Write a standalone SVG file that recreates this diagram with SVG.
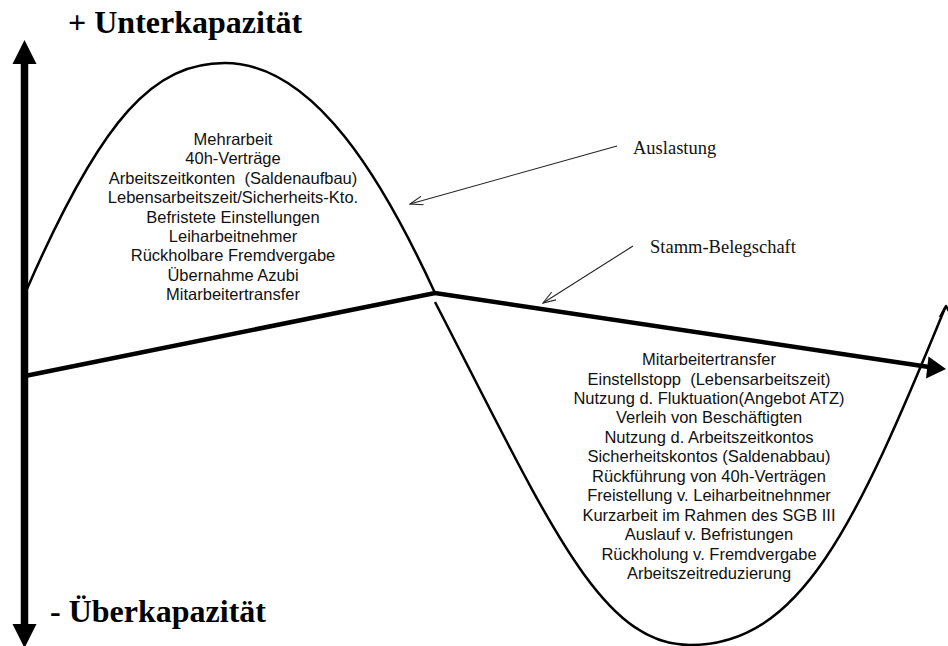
<svg xmlns="http://www.w3.org/2000/svg" width="948" height="646" viewBox="0 0 948 646">
  <style>
    .title { font-family: "Liberation Serif", "Times New Roman", serif; font-weight: bold; font-size: 32px; fill: #000; }
    .label { font-family: "Liberation Serif", "Times New Roman", serif; font-size: 18.5px; fill: #111; }
    .item { font-family: "Liberation Sans", Arial, sans-serif; font-size: 16.5px; fill: #111; text-anchor: middle; white-space: pre; }
    .curve { fill: none; stroke: #000; stroke-width: 2.5; stroke-linejoin: round; }
    .base { fill: none; stroke: #000; stroke-width: 4.5; stroke-linejoin: miter; }
    .pointer { fill: none; stroke: #222; stroke-width: 1.1; }
  </style>
  <defs>
    <marker id="openArrow" viewBox="0 0 14 10" refX="13" refY="5" markerWidth="14" markerHeight="10" markerUnits="userSpaceOnUse" orient="auto">
      <path d="M 0 0.5 L 13 5 L 0 9.5" fill="none" stroke="#222" stroke-width="1.1"/>
    </marker>
  </defs>

  <rect x="0" y="0" width="948" height="646" fill="#fff"/>

  <g id="axis">
    <line x1="24.5" y1="60" x2="24.5" y2="628" stroke="#000" stroke-width="7.5"/>
    <polygon points="24.5,40 12.5,64 36.5,64" fill="#000"/>
    <polygon points="12.5,624 36.5,624 24.5,648" fill="#000"/>
  </g>

  <g id="title-top">
    <text class="title" x="68" y="33">+ Unterkapazität</text>
  </g>
  <g id="title-bottom">
    <text class="title" x="50" y="622">- Überkapazität</text>
  </g>

  <g id="connectors">
    <!-- Auslastung wave -->
    <path id="auslastung-upper" class="curve" d="M 27 289 C 103 114.5 155 63 225 63 C 315 63 384.4 183 435 293"/>
    <path id="auslastung-lower" class="curve" d="M 435 302 C 548.7 522 600 645 690 645 C 800 645 854.8 528 945 308"/>
    <polyline class="curve" points="940,317 946,306 950,313" stroke-width="2"/>
    <!-- Stamm-Belegschaft line -->
    <polyline id="stamm-line" class="base" points="25,376 435,293 929,367"/>
    <polygon points="946,369 928.5,356.5 926,378.5" fill="#000"/>
    <!-- label pointers -->
    <line class="pointer" x1="617" y1="146" x2="410" y2="204" marker-end="url(#openArrow)"/>
    <line class="pointer" x1="633" y1="246" x2="543" y2="303" marker-end="url(#openArrow)"/>
  </g>

  <g id="label-auslastung">
    <text class="label" x="633" y="154">Auslastung</text>
  </g>
  <g id="label-stamm">
    <text class="label" x="650" y="253">Stamm-Belegschaft</text>
  </g>

  <g id="upper-measures">
    <text class="item" x="233" y="145">Mehrarbeit</text>
    <text class="item" x="233" y="164.4">40h-Verträge</text>
    <text class="item" x="233" y="183.8" xml:space="preserve">Arbeitszeitkonten  (Saldenaufbau)</text>
    <text class="item" x="233" y="203.2">Lebensarbeitszeit/Sicherheits-Kto.</text>
    <text class="item" x="233" y="222.6">Befristete Einstellungen</text>
    <text class="item" x="233" y="242">Leiharbeitnehmer</text>
    <text class="item" x="233" y="261.4">Rückholbare Fremdvergabe</text>
    <text class="item" x="233" y="280.8">Übernahme Azubi</text>
    <text class="item" x="233" y="300.2">Mitarbeitertransfer</text>
  </g>

  <g id="lower-measures">
    <text class="item" x="709" y="365">Mitarbeitertransfer</text>
    <text class="item" x="709" y="384.5" xml:space="preserve">Einstellstopp  (Lebensarbeitszeit)</text>
    <text class="item" x="709" y="404">Nutzung d. Fluktuation(Angebot ATZ)</text>
    <text class="item" x="709" y="423.4">Verleih von Beschäftigten</text>
    <text class="item" x="709" y="442.9">Nutzung d. Arbeitszeitkontos</text>
    <text class="item" x="709" y="462.4">Sicherheitskontos (Saldenabbau)</text>
    <text class="item" x="709" y="481.9">Rückführung von 40h-Verträgen</text>
    <text class="item" x="709" y="501.4">Freistellung v. Leiharbeitnehnmer</text>
    <text class="item" x="709" y="520.8">Kurzarbeit im Rahmen des SGB III</text>
    <text class="item" x="709" y="540.3">Auslauf v. Befristungen</text>
    <text class="item" x="709" y="559.8">Rückholung v. Fremdvergabe</text>
    <text class="item" x="709" y="579.3">Arbeitszeitreduzierung</text>
  </g>
</svg>
